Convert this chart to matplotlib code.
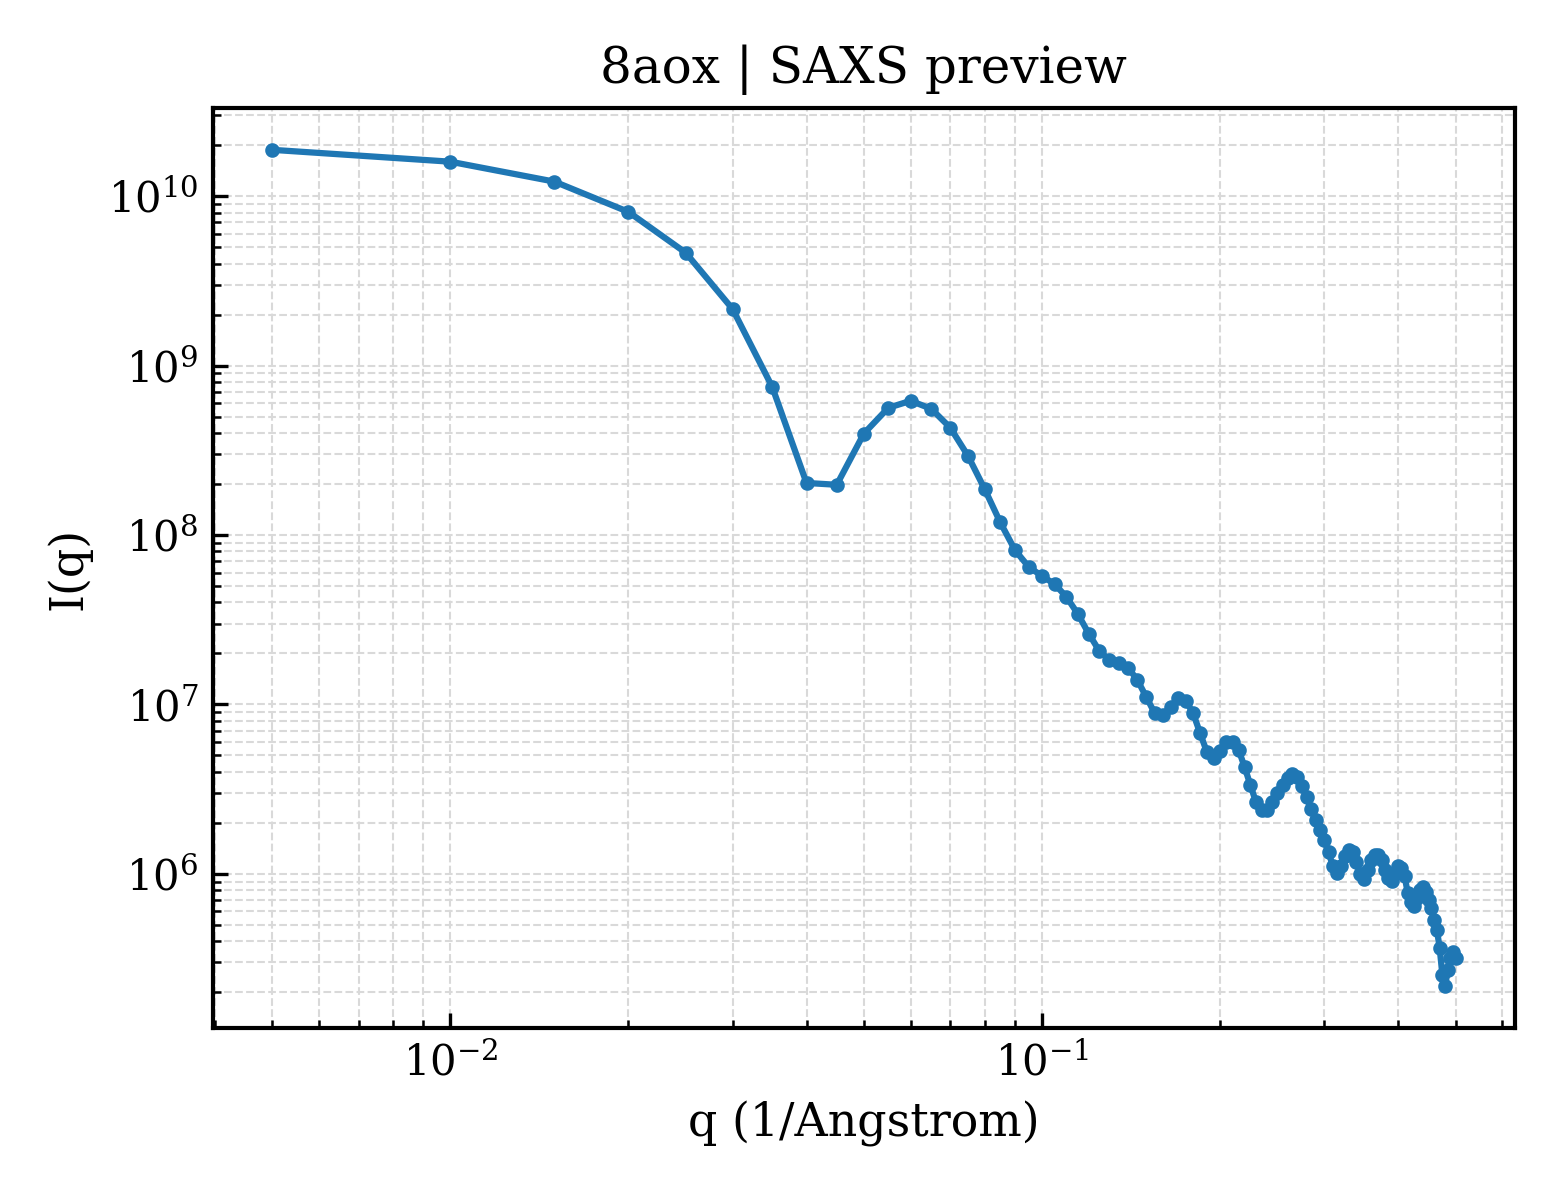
import numpy as np
import matplotlib
matplotlib.use("Agg")
import matplotlib.pyplot as plt

plt.rcParams['font.family'] = 'serif'
plt.rcParams['mathtext.fontset'] = 'dejavuserif'

# scattering vector, 1/Angstrom
q = [0.005 * k for k in range(1, 101)]

# intensity
I = [1.88e10, 1.60e10, 1.22e10, 8.09e9, 4.64e9, 2.16e9, 7.50e8, 2.03e8, 1.98e8, 3.97e8,
     5.64e8, 6.20e8, 5.56e8, 4.30e8, 2.93e8, 1.87e8, 1.19e8, 8.16e7, 6.48e7, 5.73e7,
     5.14e7, 4.31e7, 3.42e7, 2.61e7, 2.07e7, 1.83e7, 1.76e7, 1.64e7, 1.39e7, 1.11e7,
     8.90e6, 8.66e6, 9.66e6, 1.09e7, 1.05e7, 8.90e6, 6.78e6, 5.23e6, 4.83e6, 5.31e6,
     6.00e6, 6.00e6, 5.38e6, 4.27e6, 3.34e6, 2.65e6, 2.38e6, 2.38e6, 2.65e6, 3.00e6,
     3.34e6, 3.68e6, 3.88e6, 3.73e6, 3.30e6, 2.84e6, 2.41e6, 2.08e6, 1.82e6, 1.58e6,
     1.35e6, 1.11e6, 1.01e6, 1.11e6, 1.27e6, 1.38e6, 1.34e6, 1.17e6, 9.95e5, 9.29e5,
     1.05e6, 1.20e6, 1.29e6, 1.29e6, 1.20e6, 1.05e6, 9.44e5, 9.06e5, 1.01e6, 1.11e6,
     1.08e6, 9.70e5, 7.71e5, 6.82e5, 6.46e5, 7.20e5, 8.02e5, 8.35e5, 7.81e5, 7.00e5,
     6.28e5, 5.33e5, 4.66e5, 3.64e5, 2.52e5, 2.17e5, 2.70e5, 3.18e5, 3.44e5, 3.18e5]

fig = plt.figure(figsize=(5.2, 4), dpi=300)
ax = fig.add_axes([0.1365, 0.1433, 0.8345, 0.7667])

ax.plot(q, I, '-o', color='#1f77b4', lw=1.5, ms=2.5)
ax.set_xscale('log')
ax.set_yscale('log')

ax.set_xlabel('q (1/Angstrom)', fontsize=11)
ax.set_ylabel('I(q)', fontsize=11)
ax.set_title('8aox | SAXS preview', fontsize=12)

ax.tick_params(which='both', direction='in', labelsize=10)
ax.grid(True, which='both', ls='--', lw=0.5, color='0.85')
for s in ax.spines.values():
    s.set_linewidth(1.0)

fig.savefig('out.png', dpi=300)
